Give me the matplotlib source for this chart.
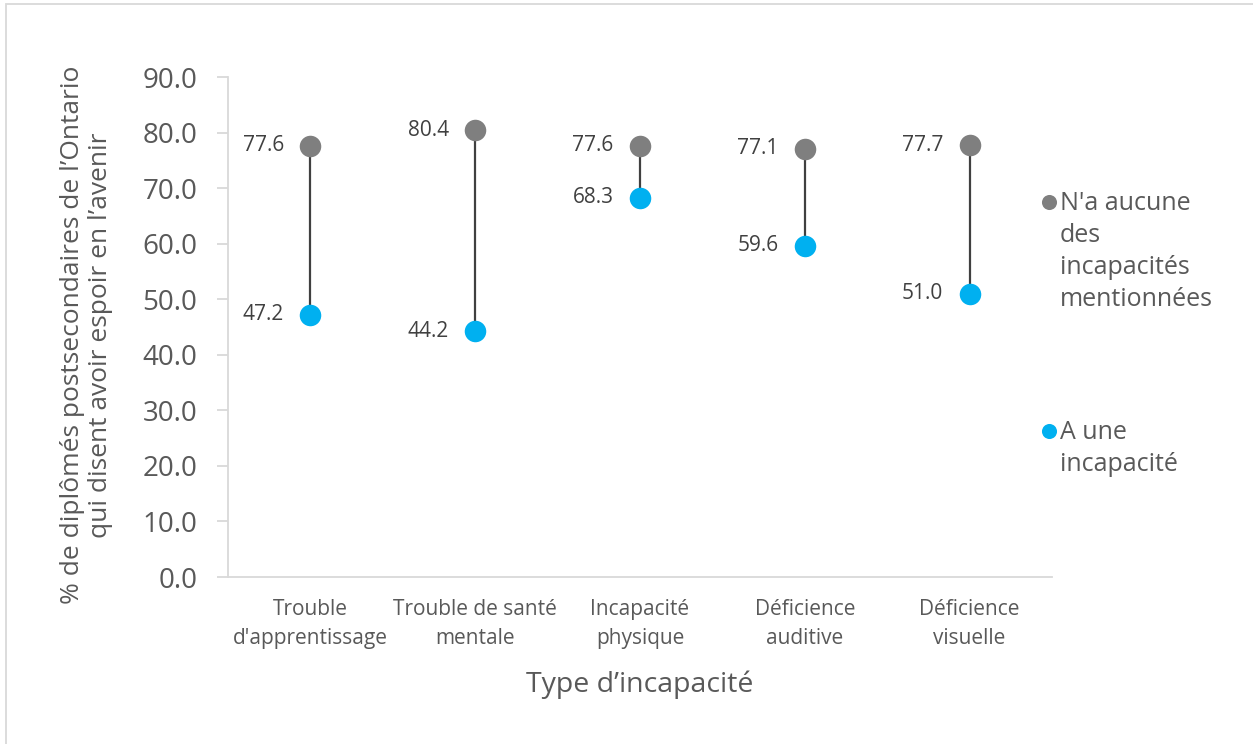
import matplotlib
matplotlib.use("Agg")
import matplotlib.pyplot as plt
import matplotlib.patches as mpatches
import numpy as np

plt.rcParams['font.family'] = ['Open Sans', 'DejaVu Sans']

categories = ["Trouble\nd'apprentissage", "Trouble de santé\nmentale", "Incapacité\nphysique",
              "Déficience\nauditive", "Déficience\nvisuelle"]
no_disability = [77.6, 80.4, 77.6, 77.1, 77.7]
with_disability = [47.2, 44.2, 68.3, 59.6, 51.0]
series_labels = ["N'a aucune\ndes\nincapacités\nmentionnées", "A une\nincapacité"]
yticks = [0, 10, 20, 30, 40, 50, 60, 70, 80, 90]
ylabel = "% de diplômés postsecondaires de l\u2019Ontario\nqui disent avoir espoir en l\u2019avenir"
xlabel = "Type d\u2019incapacité"

GRAY = "#7f7f7f"
BLUE = "#00b0f0"
AXIS = "#d9d9d9"
TXT = "#595959"
LBL = "#404040"

W, H = 1253, 744
fig = plt.figure(figsize=(W / 100, H / 100), dpi=100)
ax = fig.add_axes([228 / W, 1 - 577 / H, 824 / W, 500 / H])

x = np.arange(len(categories))
ax.vlines(x, with_disability, no_disability, color="#404040", lw=1.6, zorder=2)
h1 = ax.scatter(x, no_disability, s=15.5 ** 2, color=GRAY, zorder=3, label=series_labels[0], linewidths=0)
h2 = ax.scatter(x, with_disability, s=15.5 ** 2, color=BLUE, zorder=3, label=series_labels[1], linewidths=0)

for xi, v in zip(x, no_disability):
    ax.annotate(f"{v:.1f}", (xi, v), xytext=(-19, 0), textcoords="offset points",
                ha="right", va="center", fontsize=15, color=LBL)
for xi, v in zip(x, with_disability):
    ax.annotate(f"{v:.1f}", (xi, v), xytext=(-19, 0), textcoords="offset points",
                ha="right", va="center", fontsize=15, color=LBL)

ax.set_xlim(-0.5, len(categories) - 0.5)
ax.set_ylim(0, 90)
ax.set_yticks(yticks)
ax.set_yticklabels([f"{t:.1f}" for t in yticks])
ax.set_xticks(x)
ax.set_xticklabels(categories, fontsize=15, color=TXT, linespacing=1.5)
for s in ["top", "right"]:
    ax.spines[s].set_visible(False)
for s in ["left", "bottom"]:
    ax.spines[s].set_color(AXIS)
    ax.spines[s].set_linewidth(1.3)
ax.tick_params(axis="y", length=8, width=1.3, color=AXIS, labelsize=20, labelcolor=TXT, pad=14)
ax.tick_params(axis="x", length=0, pad=16)

ax.set_ylabel(ylabel, fontsize=19, color=TXT, linespacing=1.15, labelpad=21)
ax.yaxis.label.set_y(0.484)
ax.set_xlabel(xlabel, fontsize=20.5, color=TXT, labelpad=15)

leg = ax.legend(handles=[h1, h2], loc="upper left", bbox_to_anchor=(1.0 - 0.03, 0.792),
                frameon=False, fontsize=18, labelcolor=TXT, handletextpad=0.0,
                labelspacing=4.3, handlelength=0.9, markerscale=0.7, borderaxespad=0)
for t in leg.get_texts():
    t.set_linespacing(1.37)
for col in leg._legend_handle_box.get_children():
    for item in col.get_children():
        item.align = "top"

fig.patches.append(mpatches.Rectangle((6 / W, -0.05), 1.2, 1 - 4 / H + 0.05,
                                      transform=fig.transFigure, fill=False,
                                      edgecolor=AXIS, lw=1.3))

fig.savefig("out.png", dpi=100)
